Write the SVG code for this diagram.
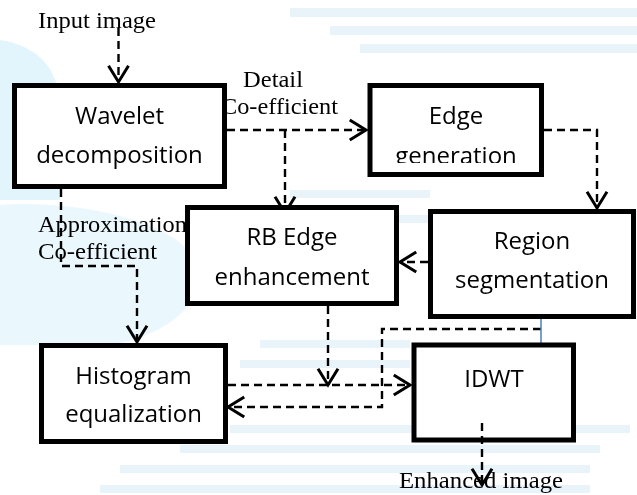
<svg xmlns="http://www.w3.org/2000/svg" width="637" height="495" viewBox="0 0 637 495">
<style>
.box{fill:#fff;stroke:#000;stroke-width:5}
.nt{font-family:"Open Sans","Liberation Sans",sans-serif;font-size:24px;fill:#000;text-anchor:middle}
.lb{font-family:"Liberation Serif","Times New Roman",serif;font-size:23px;fill:#000}
.cn{fill:none;stroke:#000;stroke-width:2.4;stroke-dasharray:8 5}
.wm{fill:#d2eefa}
.ws{fill:#dcecf8}
</style>
<defs>
<marker id="arr" markerUnits="userSpaceOnUse" markerWidth="30" markerHeight="30" viewBox="-16 -12 20 24" refX="0" refY="0" orient="auto">
<path d="M-13,-8 L0,0 L-13,8" fill="none" stroke="#000" stroke-width="2.4"/>
</marker>
<clipPath id="clipEdge"><rect x="370" y="86" width="172" height="77"/></clipPath>
</defs>
<rect width="637" height="495" fill="#fff"/>
<g id="watermark" opacity="0.65">
<path class="wm" d="M0,40 C30,45 55,60 60,100 L60,200 L0,200 Z"/>
<path class="wm" d="M0,205 C60,200 170,215 195,260 C210,300 170,335 110,345 L0,345 Z" opacity="0.7"/>
<rect class="ws" x="290" y="8" width="347" height="9"/>
<rect class="ws" x="330" y="26" width="307" height="9"/>
<rect class="ws" x="360" y="44" width="277" height="9"/>
<rect class="ws" x="290" y="190" width="140" height="8"/>
<rect class="ws" x="300" y="215" width="130" height="8"/>
<rect class="ws" x="260" y="340" width="150" height="8"/>
<rect class="ws" x="240" y="360" width="170" height="8"/>
<rect class="ws" x="230" y="425" width="400" height="8"/>
<rect class="ws" x="180" y="445" width="420" height="8"/>
<rect class="ws" x="120" y="465" width="470" height="8"/>
<rect class="ws" x="100" y="485" width="490" height="8"/>
</g>
<g id="labels">
<text class="lb" x="38" y="28" textLength="118" lengthAdjust="spacingAndGlyphs">Input image</text>
<text class="lb" x="243" y="87" textLength="60" lengthAdjust="spacingAndGlyphs">Detail</text>
<text class="lb" x="221" y="114" textLength="117" lengthAdjust="spacingAndGlyphs">Co-efficient</text>
<text class="lb" x="38" y="232" textLength="149" lengthAdjust="spacingAndGlyphs">Approximation</text>
<text class="lb" x="38" y="259" textLength="119" lengthAdjust="spacingAndGlyphs">Co-efficient</text>
<text class="lb" x="399" y="488" textLength="164" lengthAdjust="spacingAndGlyphs">Enhanced image</text>
</g>
<g id="connectors">
<path class="cn" d="M118.5,28 V82" marker-end="url(#arr)"/>
<path class="cn" d="M227,130 H366" marker-end="url(#arr)"/>
<path class="cn" d="M285,130 V213" marker-end="url(#arr)"/>
<path class="cn" d="M544,130 H597 V208" marker-end="url(#arr)"/>
<path class="cn" d="M428,262 H400" marker-end="url(#arr)"/>
<path class="cn" d="M61,189 V266 H137 V342" marker-end="url(#arr)"/>
<path class="cn" d="M228,385 H410" marker-end="url(#arr)"/>
<path class="cn" d="M328,306 V385" marker-end="url(#arr)"/>
<path class="cn" d="M541,329 H382 V407 H228" marker-end="url(#arr)"/>
<path d="M541,319 V345" fill="none" stroke="#4a7ebb" stroke-width="1.5"/>
</g>
<g id="wavelet">
<rect class="box" x="14.5" y="85.5" width="210" height="101"/>
<text class="nt" x="119.5" y="124">Wavelet</text>
<text class="nt" x="119.5" y="163">decomposition</text>
</g>
<g id="edge">
<rect class="box" x="370" y="85.5" width="171.5" height="89"/>
<text class="nt" x="456" y="124">Edge</text>
<text class="nt" x="456" y="164" clip-path="url(#clipEdge)">generation</text>
</g>
<g id="rb">
<rect class="box" x="187.5" y="207.5" width="209" height="96"/>
<text class="nt" x="292" y="245">RB Edge</text>
<text class="nt" x="292" y="285">enhancement</text>
</g>
<g id="region">
<rect class="box" x="430.5" y="211.5" width="203" height="105"/>
<text class="nt" x="532" y="249">Region</text>
<text class="nt" x="532" y="288">segmentation</text>
</g>
<g id="histogram">
<rect class="box" x="41.5" y="345.5" width="184" height="96"/>
<text class="nt" x="133.5" y="384">Histogram</text>
<text class="nt" x="133.5" y="422">equalization</text>
</g>
<g id="idwt">
<rect class="box" x="414" y="345" width="159.5" height="95"/>
<text class="nt" x="494" y="387">IDWT</text>
</g>
<g id="output-connector">
<path class="cn" d="M482,423 V485" marker-end="url(#arr)"/>
</g>
</svg>
